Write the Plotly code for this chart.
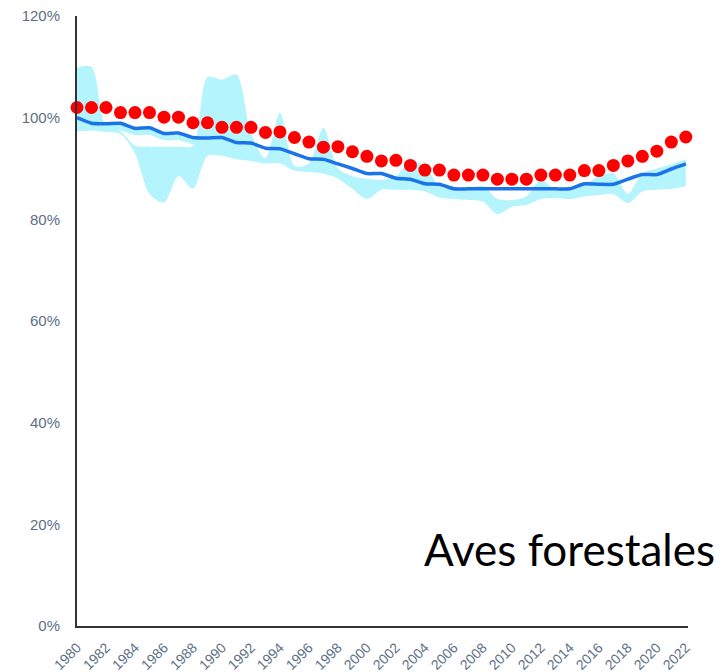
import plotly.graph_objects as go

years = list(range(1980, 2023))

index_vals = [102.0, 102.0, 102.0, 101.0, 101.0, 101.0, 100.1, 100.1, 99.0, 99.0,
              98.1, 98.1, 98.1, 97.1, 97.2, 96.1, 95.2, 94.2, 94.3, 93.3,
              92.4, 91.5, 91.6, 90.6, 89.7, 89.7, 88.7, 88.7, 88.7, 87.9,
              87.9, 87.9, 88.7, 88.7, 88.7, 89.6, 89.6, 90.6, 91.5, 92.4,
              93.4, 95.2, 96.2]

trend_vals = [100.0, 98.9, 98.8, 98.9, 97.9, 98.0, 96.9, 97.0, 96.1, 96.0,
              96.1, 95.1, 95.0, 94.0, 93.9, 92.9, 91.9, 91.8, 90.9, 90.0,
              89.0, 89.0, 88.1, 87.9, 87.0, 86.9, 86.0, 86.0, 86.0, 86.0,
              86.0, 86.0, 86.0, 86.0, 86.0, 87.0, 86.9, 86.9, 87.9, 88.8,
              88.8, 89.9, 90.9]

band_hi = [109.8, 110.0, 98.2, 97.3, 94.5, 94.3, 94.3, 94.3, 94.5, 108.0,
           107.5, 108.5, 97.0, 92.0, 101.0, 90.5, 91.0, 98.0, 90.0, 88.5,
           88.0, 87.8, 88.5, 91.5, 90.5, 86.5, 85.8, 86.0, 86.5, 84.0,
           83.8, 84.5, 87.8, 85.8, 86.0, 86.8, 88.5, 89.0, 85.0, 89.0,
           90.0, 90.8, 91.8]

band_lo = [97.3, 97.5, 97.2, 96.8, 93.0, 85.0, 83.3, 88.5, 86.0, 92.5,
           92.5, 91.8, 91.5, 91.0, 91.0, 89.6, 89.3, 89.0, 88.0, 86.0,
           84.0, 85.8, 85.8, 85.8, 85.5, 84.3, 84.0, 83.8, 83.5, 81.0,
           82.5, 82.8, 84.0, 84.2, 84.0, 84.5, 84.8, 85.0, 83.2, 85.5,
           85.8, 86.0, 86.5]

strip_years = list(range(1982, 1990))
strip_hi = [98.8, 98.9, 97.9, 98.0, 96.9, 97.0, 96.1, 96.0]
strip_lo = [97.5, 97.5, 96.6, 96.6, 95.6, 95.6, 94.8, 94.6]

tick_years = list(range(1980, 2023, 2))
tick_text = [str(y) for y in tick_years]
y_ticks = [0, 20, 40, 60, 80, 100, 120]
y_text = [f"{v}%" for v in y_ticks]

BAND = "#b4f4fd"
BLUE = "#1a73e8"
RED = "#ff0000"
TICK = "#5d6f85"

fig = go.Figure()
fig.add_trace(go.Scatter(x=years, y=band_lo, mode="lines",
                         line=dict(width=0, shape="spline", smoothing=0.8),
                         showlegend=False, hoverinfo="skip"))
fig.add_trace(go.Scatter(x=years, y=band_hi, mode="lines",
                         line=dict(width=0, shape="spline", smoothing=0.8),
                         fill="tonexty", fillcolor=BAND,
                         showlegend=False, hoverinfo="skip"))
fig.add_trace(go.Scatter(x=strip_years, y=strip_lo, mode="lines",
                         line=dict(width=0, shape="spline", smoothing=0.6),
                         showlegend=False, hoverinfo="skip"))
fig.add_trace(go.Scatter(x=strip_years, y=strip_hi, mode="lines",
                         line=dict(width=0, shape="spline", smoothing=0.6),
                         fill="tonexty", fillcolor=BAND,
                         showlegend=False, hoverinfo="skip"))
fig.add_trace(go.Scatter(x=years, y=trend_vals, mode="lines",
                         line=dict(color=BLUE, width=3.5, shape="spline", smoothing=0.5),
                         showlegend=False))
fig.add_trace(go.Scatter(x=years, y=index_vals, mode="markers",
                         marker=dict(color=RED, size=13),
                         cliponaxis=False, showlegend=False))

fig.add_annotation(text="Aves forestales", xref="paper", yref="paper",
                   x=1.048, y=0.126, xanchor="right", yanchor="middle",
                   showarrow=False,
                   font=dict(family="Lato", size=44, color="#000000"))

fig.update_layout(
    width=714, height=664,
    margin=dict(l=69, r=34, t=8, b=46, autoexpand=False),
    plot_bgcolor="white", paper_bgcolor="white",
    font=dict(family="Liberation Sans"),
    showlegend=False,
    xaxis=dict(range=[1980, 2022.15], tickmode="array", tickvals=tick_years,
               ticktext=tick_text, automargin=False,
               tickangle=-45, showline=True, linecolor="#333333", linewidth=2,
               showgrid=False, zeroline=False, ticks="",
               ticklabelstandoff=6, ticklabeloverflow="allow",
               tickfont=dict(size=14, color=TICK, family="Liberation Sans")),
    yaxis=dict(range=[0, 120], tickmode="array", tickvals=y_ticks,
               ticktext=y_text, automargin=False,
               showline=True, linecolor="#333333", linewidth=2,
               showgrid=False, zeroline=False, ticks="",
               ticklabelstandoff=12, ticklabeloverflow="allow",
               tickfont=dict(size=15, color=TICK, family="Liberation Sans")),
)

fig.write_html("out.html")
